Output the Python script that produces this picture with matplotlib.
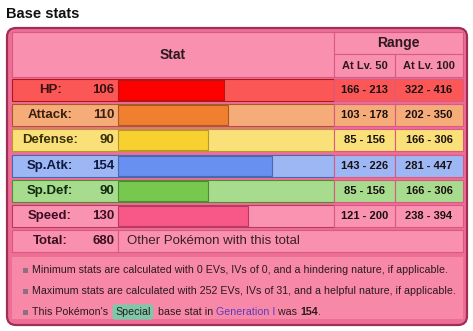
"""
Base stats table (Bulbapedia style) redrawn with matplotlib
"""

import matplotlib

matplotlib.use("Agg")
import matplotlib.pyplot as plt
from matplotlib.patches import FancyBboxPatch, Rectangle

# データ
stat_names = ["HP", "Attack", "Defense", "Sp.Atk", "Sp.Def", "Speed"]
base_stats = [106, 110, 90, 154, 90, 130]
range_lv50 = ["166 - 213", "103 - 178", "85 - 156", "143 - 226", "85 - 156", "121 - 200"]
range_lv100 = ["322 - 416", "202 - 350", "166 - 306", "281 - 447", "166 - 306", "238 - 394"]
total_label = "Total:"
total_value = 680
total_note = "Other Pokémon with this total"
footnotes = [
    "Minimum stats are calculated with 0 EVs, IVs of 0, and a hindering nature, if applicable.",
    "Maximum stats are calculated with 252 EVs, IVs of 31, and a helpful nature, if applicable.",
]
special_note = ["This Pokémon's", "Special", "base stat in ", "Generation I", " was ", "154", "."]

# 色
row_colors = ["#fb5757", "#f5ac78", "#fae078", "#9db7f5", "#a7db8d", "#fa92b2"]
bar_colors = ["#ff0000", "#f08030", "#f8d030", "#6890f0", "#78c850", "#f85888"]
bar_edges = ["#b01818", "#a85a22", "#b8982a", "#4868b0", "#4e8c34", "#b83a60"]
label_colors = ["#3a1010", "#3a2010", "#3a3008", "#101a40", "#102a10", "#3a1020"]
frame_fill = "#ee6f96"
frame_edge = "#9e2f57"
cell_pink = "#f990b0"
line_pink = "#d85a82"
text_dark = "#2a1a20"

plt.rcParams["font.family"] = ["Liberation Sans", "DejaVu Sans"]

fig = plt.figure(figsize=(4.73, 3.31), dpi=100)
ax = fig.add_axes([0, 0, 1, 1])
ax.set_xlim(0, 473)
ax.set_ylim(331, 0)
ax.axis("off")

# タイトル
ax.text(6, 14, "Base stats", fontsize=10.5, fontweight="bold", va="center", ha="left", color="#111111")

# 外枠
frame = FancyBboxPatch((7, 28), 460, 297, boxstyle="round,pad=0,rounding_size=9",
                       fc=frame_fill, ec=frame_edge, lw=1.6)
ax.add_patch(frame)

# ヘッダー
x_left, x_bar, x_mid, x_r1, x_right = 12, 118, 334, 395, 463
ax.add_patch(Rectangle((x_left, 32), x_mid - x_left, 45, fc=cell_pink, ec=line_pink, lw=0.8))
ax.add_patch(Rectangle((x_mid, 32), x_right - x_mid, 22, fc=cell_pink, ec=line_pink, lw=0.8))
ax.add_patch(Rectangle((x_mid, 54), x_r1 - x_mid, 23, fc=cell_pink, ec=line_pink, lw=0.8))
ax.add_patch(Rectangle((x_r1, 54), x_right - x_r1, 23, fc=cell_pink, ec=line_pink, lw=0.8))
ax.text((x_left + x_mid) / 2, 55, "Stat", fontsize=10, fontweight="bold", ha="center", va="center", color=text_dark)
ax.text((x_mid + x_right) / 2, 43, "Range", fontsize=10, fontweight="bold", ha="center", va="center", color=text_dark)
ax.text((x_mid + x_r1) / 2, 66, "At Lv. 50", fontsize=8, fontweight="bold", ha="center", va="center", color=text_dark)
ax.text((x_r1 + x_right) / 2, 66, "At Lv. 100", fontsize=8, fontweight="bold", ha="center", va="center", color=text_dark)

# 各ステータス行
row_top0, row_step, row_h = 79, 25.2, 22
centers = [row_top0 + row_h / 2 + i * row_step for i in range(len(stat_names))]
for i, name in enumerate(stat_names):
    top = centers[i] - row_h / 2
    ax.add_patch(Rectangle((x_left, top), x_mid - x_left, row_h, fc=row_colors[i], ec=bar_edges[i], lw=0.8))
    ax.add_patch(Rectangle((x_mid, top), x_r1 - x_mid, row_h, fc=row_colors[i], ec=line_pink, lw=0.8))
    ax.add_patch(Rectangle((x_r1, top), x_right - x_r1, row_h, fc=row_colors[i], ec=line_pink, lw=0.8))
    ax.text(50, centers[i], name + ":", fontsize=9.5, fontweight="bold", ha="center", va="center",
            color=label_colors[i])
    ax.text(114, centers[i], str(base_stats[i]), fontsize=9.5, fontweight="bold", ha="right", va="center",
            color=label_colors[i])
    ax.text((x_mid + x_r1) / 2, centers[i], range_lv50[i], fontsize=8, fontweight="bold",
            ha="center", va="center", color="#1a1010")
    ax.text((x_r1 + x_right) / 2, centers[i], range_lv100[i], fontsize=8, fontweight="bold",
            ha="center", va="center", color="#1a1010")

# バー
ax.barh(centers, base_stats, left=x_bar, height=row_h - 2, color=bar_colors, edgecolor=bar_edges, linewidth=0.8)

# 合計行
total_c = centers[-1] + row_step
ax.add_patch(Rectangle((x_left, total_c - row_h / 2), x_bar - x_left, row_h, fc=cell_pink, ec=line_pink, lw=0.8))
ax.add_patch(Rectangle((x_bar, total_c - row_h / 2), x_right - x_bar, row_h, fc=cell_pink, ec=line_pink, lw=0.8))
ax.text(50, total_c, total_label, fontsize=9.5, fontweight="bold", ha="center", va="center", color="#3a1020")
ax.text(114, total_c, str(total_value), fontsize=9.5, fontweight="bold", ha="right", va="center", color="#3a1020")
ax.text(127, total_c, total_note, fontsize=9.5, ha="left", va="center", color="#3a2028")

# 注記エリア
ax.add_patch(Rectangle((x_left, 257), x_right - x_left, 62, fc="#f888a8", ec="none"))
note_ys = [270, 291, 312]
for y in note_ys:
    ax.add_patch(Rectangle((23, y - 2.5), 5, 5, fc="#8a7080", ec="none"))
for y, s in zip(note_ys[:2], footnotes):
    ax.text(32, y, s, fontsize=7.65, ha="left", va="center", color="#2a1a20")

# 3行目（色付きテキスト）
prev = ax.text(32, note_ys[2], special_note[0], fontsize=7.65, ha="left", va="center", color="#2a1a20")
for s in special_note[1:]:
    kw = dict(fontsize=7.65, color="#2a1a20")
    gap = 0
    if s == "Special":
        kw["bbox"] = dict(boxstyle="round,pad=0.25", fc="#7ec8a8", ec="none")
        gap = 5
    elif s.startswith("base"):
        gap = 5
    elif s.startswith("Generation"):
        kw["color"] = "#5a3cc0"
    elif s == "154":
        kw["fontweight"] = "bold"
    prev = ax.annotate(s, xy=(1, 0), xycoords=prev, xytext=(gap, 0), textcoords="offset points",
                       va="bottom", ha="left", **kw)

plt.savefig("out.png", dpi=100)
plt.close()
